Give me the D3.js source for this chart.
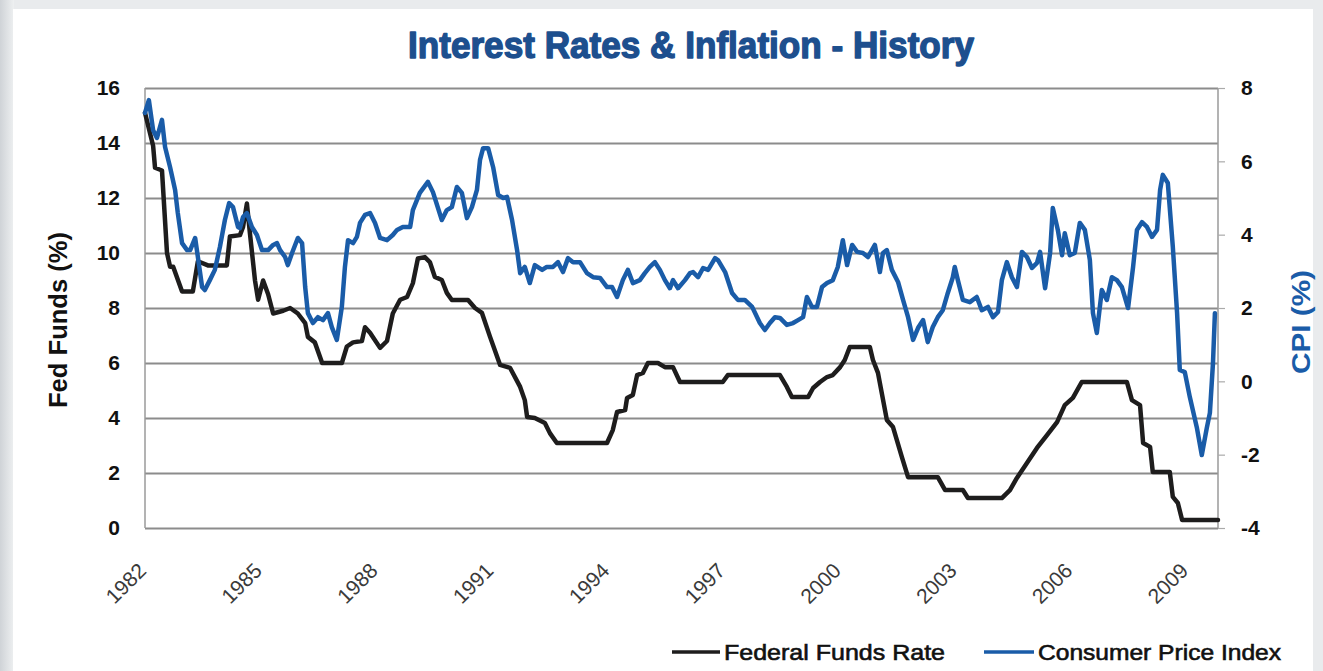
<!DOCTYPE html>
<html>
<head>
<meta charset="utf-8">
<script src="https://cdn.jsdelivr.net/npm/d3@7/dist/d3.min.js"></script>
<style>
  html, body { margin: 0; padding: 0; background: #e7e9eb; }
  svg { display: block; }
</style>
</head>
<body>
<svg id="chart" width="1323" height="671"></svg>
<script>
// ---------- DATA ----------
const title = "Interest Rates & Inflation - History";
const leftAxisTitle = "Fed Funds (%)";
const rightAxisTitle = "CPI (%)";
const seriesNames = ["Federal Funds Rate", "Consumer Price Index"];
const xTickYears = [1982, 1985, 1988, 1991, 1994, 1997, 2000, 2003, 2006, 2009];
const leftTicks = [0, 2, 4, 6, 8, 10, 12, 14, 16];
const rightTicks = [-4, -2, 0, 2, 4, 6, 8];

// Federal Funds Rate: [decimal year, percent]
const fedFunds = [
  [1982.00,15.1],[1982.21,13.9],[1982.26,13.1],[1982.44,13.0],[1982.57,10.0],[1982.65,9.5],
  [1982.73,9.5],[1982.96,8.6],[1983.24,8.6],[1983.37,9.7],[1983.63,9.55],[1984.12,9.55],
  [1984.20,10.6],[1984.46,10.65],[1984.54,10.95],[1984.64,11.8],[1984.72,10.7],[1984.85,9.0],
  [1984.93,8.3],[1985.06,9.0],[1985.19,8.5],[1985.32,7.8],[1985.58,7.9],[1985.76,8.0],
  [1985.96,7.8],[1986.15,7.45],[1986.22,6.95],[1986.40,6.75],[1986.59,6.0],[1987.10,6.0],
  [1987.23,6.6],[1987.39,6.75],[1987.62,6.8],[1987.70,7.3],[1987.83,7.1],[1988.09,6.55],
  [1988.27,6.8],[1988.42,7.8],[1988.61,8.3],[1988.79,8.4],[1988.94,8.9],[1989.07,9.8],
  [1989.25,9.85],[1989.38,9.67],[1989.51,9.13],[1989.69,9.02],[1989.82,8.55],[1989.95,8.29],
  [1990.37,8.29],[1990.55,8.0],[1990.73,7.82],[1990.94,6.95],[1991.20,5.93],[1991.46,5.82],
  [1991.72,5.13],[1991.84,4.65],[1991.90,4.04],[1992.10,4.0],[1992.36,3.82],[1992.49,3.45],
  [1992.67,3.09],[1993.97,3.09],[1994.12,3.56],[1994.23,4.22],[1994.44,4.29],[1994.49,4.73],
  [1994.64,4.84],[1994.75,5.56],[1994.90,5.64],[1995.03,6.0],[1995.29,6.0],[1995.47,5.85],
  [1995.68,5.85],[1995.86,5.31],[1996.97,5.31],[1997.10,5.56],[1998.45,5.56],[1998.63,5.13],
  [1998.76,4.76],[1999.18,4.76],[1999.31,5.09],[1999.49,5.31],[1999.67,5.49],[1999.82,5.56],
  [2000.01,5.85],[2000.13,6.11],[2000.26,6.58],[2000.78,6.58],[2000.86,6.11],[2000.99,5.64],
  [2001.22,3.93],[2001.38,3.67],[2001.61,2.58],[2001.77,1.85],[2002.54,1.85],[2002.73,1.38],
  [2003.19,1.38],[2003.32,1.09],[2004.20,1.09],[2004.41,1.38],[2004.59,1.82],[2004.85,2.36],
  [2005.11,2.91],[2005.37,3.38],[2005.63,3.85],[2005.83,4.47],[2006.04,4.73],[2006.27,5.31],
  [2007.44,5.31],[2007.57,4.65],[2007.78,4.47],[2007.86,3.09],[2008.04,2.95],[2008.11,2.04],
  [2008.55,2.04],[2008.63,1.13],[2008.76,0.91],[2008.87,0.29],[2009.80,0.29]
];

// Consumer Price Index (yoy %): [decimal year, percent]
const cpi = [
  [1982.00,7.32],[1982.10,7.67],[1982.21,6.85],[1982.31,6.64],[1982.44,7.13],[1982.52,6.39],
  [1982.65,5.84],[1982.78,5.22],[1982.85,4.59],[1982.96,3.77],[1983.09,3.58],[1983.17,3.58],
  [1983.30,3.91],[1983.37,3.39],[1983.48,2.57],[1983.55,2.49],[1983.68,2.76],[1983.81,3.04],
  [1983.94,3.66],[1984.07,4.40],[1984.18,4.86],[1984.28,4.75],[1984.41,4.21],[1984.46,4.18],
  [1984.54,4.48],[1984.64,4.59],[1984.77,4.21],[1984.90,3.99],[1985.03,3.58],[1985.19,3.58],
  [1985.32,3.72],[1985.42,3.77],[1985.50,3.58],[1985.63,3.39],[1985.70,3.17],[1985.81,3.50],
  [1985.96,3.91],[1986.07,3.77],[1986.15,2.57],[1986.22,1.86],[1986.35,1.59],[1986.48,1.75],
  [1986.61,1.67],[1986.74,1.86],[1986.84,1.48],[1986.97,1.13],[1987.10,2.03],[1987.18,3.12],
  [1987.26,3.85],[1987.39,3.77],[1987.49,3.94],[1987.57,4.32],[1987.70,4.54],[1987.83,4.59],
  [1987.96,4.32],[1988.09,3.91],[1988.27,3.85],[1988.42,3.99],[1988.53,4.13],[1988.68,4.21],
  [1988.87,4.21],[1988.94,4.67],[1989.12,5.14],[1989.33,5.44],[1989.46,5.16],[1989.69,4.40],
  [1989.82,4.67],[1989.95,4.75],[1990.08,5.30],[1990.21,5.14],[1990.34,4.45],[1990.47,4.75],
  [1990.60,5.22],[1990.68,6.04],[1990.76,6.36],[1990.89,6.36],[1991.02,5.84],[1991.15,5.08],
  [1991.28,5.00],[1991.38,5.03],[1991.51,4.40],[1991.64,3.58],[1991.72,2.95],[1991.84,3.12],
  [1991.97,2.68],[1992.10,3.17],[1992.29,3.04],[1992.41,3.12],[1992.57,3.12],[1992.70,3.25],
  [1992.83,2.98],[1992.96,3.36],[1993.09,3.25],[1993.27,3.25],[1993.45,2.95],[1993.61,2.84],
  [1993.79,2.82],[1993.97,2.57],[1994.10,2.57],[1994.23,2.30],[1994.38,2.76],[1994.51,3.04],
  [1994.64,2.68],[1994.82,2.76],[1994.95,2.95],[1995.08,3.12],[1995.21,3.25],[1995.34,3.04],
  [1995.47,2.76],[1995.60,2.54],[1995.68,2.76],[1995.81,2.54],[1995.99,2.76],[1996.12,2.95],
  [1996.20,2.98],[1996.33,2.84],[1996.46,3.09],[1996.59,3.04],[1996.77,3.36],[1996.85,3.30],
  [1997.03,2.98],[1997.21,2.41],[1997.36,2.22],[1997.54,2.22],[1997.73,2.03],[1997.93,1.59],
  [1998.06,1.40],[1998.19,1.59],[1998.32,1.75],[1998.45,1.73],[1998.63,1.54],[1998.79,1.59],
  [1998.92,1.67],[1999.05,1.75],[1999.15,2.30],[1999.28,2.03],[1999.41,2.03],[1999.54,2.57],
  [1999.67,2.68],[1999.82,2.76],[1999.95,3.12],[2000.08,3.85],[2000.19,3.17],[2000.32,3.72],
  [2000.45,3.53],[2000.60,3.50],[2000.73,3.39],[2000.91,3.72],[2001.04,2.98],[2001.12,3.50],
  [2001.22,3.58],[2001.35,3.04],[2001.51,2.71],[2001.64,2.22],[2001.77,1.75],[2001.90,1.13],
  [2002.03,1.46],[2002.16,1.67],[2002.28,1.07],[2002.41,1.48],[2002.54,1.75],[2002.67,1.94],
  [2002.80,2.41],[2002.93,2.84],[2002.98,3.12],[2003.06,2.76],[2003.19,2.22],[2003.37,2.16],
  [2003.55,2.30],[2003.68,1.94],[2003.84,2.03],[2003.97,1.75],[2004.10,1.89],[2004.20,2.76],
  [2004.33,3.25],[2004.46,2.84],[2004.59,2.57],[2004.72,3.53],[2004.85,3.39],[2004.98,3.09],
  [2005.11,3.23],[2005.19,3.53],[2005.32,2.54],[2005.45,3.50],[2005.52,4.73],[2005.65,4.13],
  [2005.76,3.44],[2005.83,4.04],[2005.96,3.44],[2006.09,3.50],[2006.22,4.32],[2006.35,4.13],
  [2006.48,3.31],[2006.56,1.86],[2006.66,1.32],[2006.79,2.49],[2006.92,2.22],[2007.05,2.84],
  [2007.18,2.76],[2007.31,2.57],[2007.47,2.00],[2007.60,3.12],[2007.70,4.13],[2007.83,4.34],
  [2007.96,4.21],[2008.09,3.94],[2008.22,4.13],[2008.30,5.22],[2008.37,5.63],[2008.50,5.41],
  [2008.63,3.66],[2008.74,1.86],[2008.81,0.31],[2008.94,0.25],[2009.07,-0.43],[2009.25,-1.25],
  [2009.38,-2.01],[2009.51,-1.27],[2009.59,-0.86],[2009.67,0.50],[2009.72,1.86]
];

// ---------- DRAWING ----------
const W = 1323, H = 671;
const plot = { left: 145, right: 1218, top: 88, bottom: 528 };
const fedColor = "#1e1d1d";
const cpiColor = "#1a5ca8";
const titleColor = "#1d4f8e";
const gridColor = "#8c8c8c";
const FONT = "'Liberation Sans', Arial, sans-serif";

const svg = d3.select("#chart");

// page frame
const defs = svg.append("defs");
const grad = defs.append("linearGradient").attr("id", "leftShade").attr("x1", 0).attr("x2", 1);
grad.append("stop").attr("offset", 0).attr("stop-color", "#cfd3d7");
grad.append("stop").attr("offset", 1).attr("stop-color", "#eef0f1");
svg.append("rect").attr("x", 0).attr("y", 0).attr("width", W).attr("height", H).attr("fill", "#e9ebed");
svg.append("rect").attr("x", 0).attr("y", 0).attr("width", 14).attr("height", H).attr("fill", "url(#leftShade)");
svg.append("rect").attr("x", 13).attr("y", 9).attr("width", 1300).attr("height", H - 9).attr("fill", "#ffffff");

const x = d3.scaleLinear().domain([1982, 2009.8]).range([plot.left, plot.right]);
const yL = d3.scaleLinear().domain([0, 16]).range([plot.bottom, plot.top]);
const yR = d3.scaleLinear().domain([-4, 8]).range([plot.bottom, plot.top]);

// gridlines (left axis)
svg.append("g")
  .attr("transform", `translate(${plot.left},0)`)
  .call(d3.axisLeft(yL).tickValues(leftTicks).tickSize(-(plot.right - plot.left)).tickFormat(""))
  .call(g => g.select(".domain").remove())
  .call(g => g.selectAll("line").attr("stroke", gridColor).attr("stroke-width", 1.8));

// plot borders
svg.append("line").attr("x1", plot.left).attr("x2", plot.left).attr("y1", plot.top).attr("y2", plot.bottom)
  .attr("stroke", "#9a9a9a").attr("stroke-width", 1.5);
svg.append("line").attr("x1", plot.right).attr("x2", plot.right).attr("y1", plot.top).attr("y2", plot.bottom)
  .attr("stroke", "#9a9a9a").attr("stroke-width", 1.5);

// left axis labels
svg.append("g")
  .attr("transform", `translate(${plot.left},0)`)
  .call(d3.axisLeft(yL).tickValues(leftTicks).tickSize(0).tickPadding(25).tickFormat(d => String(d)))
  .call(g => g.select(".domain").remove())
  .call(g => g.selectAll("text")
    .attr("font-family", FONT)
    .attr("font-weight", "bold").attr("font-size", 21).attr("fill", "#111"));

// right axis
svg.append("g")
  .attr("transform", `translate(${plot.right},0)`)
  .call(d3.axisRight(yR).tickValues(rightTicks).tickSize(7).tickPadding(16).tickFormat(d => String(d)))
  .call(g => g.select(".domain").remove())
  .call(g => g.selectAll("line").attr("stroke", "#aaaaaa").attr("stroke-width", 1.2))
  .call(g => g.selectAll("text")
    .attr("font-family", FONT)
    .attr("font-weight", "bold").attr("font-size", 21).attr("fill", "#111"));

// x axis labels (rotated)
const xAxis = svg.append("g")
  .attr("transform", `translate(0,${plot.bottom})`)
  .call(d3.axisBottom(x).tickValues(xTickYears).tickSize(0).tickFormat(d => String(d)))
  .call(g => g.select(".domain").remove());
xAxis.selectAll("text")
  .attr("font-family", FONT)
  .attr("font-size", 21).attr("fill", "#3a3a3a")
  .attr("text-anchor", "end")
  .attr("dy", 0).attr("y", 0)
  .attr("transform", "translate(2,44) rotate(-45)");

// lines
const lineFed = d3.line().x(d => x(d[0])).y(d => yL(d[1]));
const lineCpi = d3.line().x(d => x(d[0])).y(d => yR(d[1]));

svg.append("path").datum(fedFunds).attr("d", lineFed)
  .attr("fill", "none").attr("stroke", fedColor).attr("stroke-width", 4.5)
  .attr("stroke-linejoin", "round").attr("stroke-linecap", "round");
svg.append("path").datum(cpi).attr("d", lineCpi)
  .attr("fill", "none").attr("stroke", cpiColor).attr("stroke-width", 4.5)
  .attr("stroke-linejoin", "round").attr("stroke-linecap", "round");

// title
svg.append("text")
  .attr("x", 691).attr("y", 58).attr("text-anchor", "middle")
  .attr("font-family", FONT)
  .attr("font-weight", "bold").attr("font-size", 36).attr("fill", titleColor)
  .attr("stroke", titleColor).attr("stroke-width", 1.4).attr("stroke-linejoin", "round")
  .attr("textLength", 566).attr("lengthAdjust", "spacingAndGlyphs")
  .text(title);

// axis titles
svg.append("text")
  .attr("transform", "translate(67,320) rotate(-90)")
  .attr("text-anchor", "middle")
  .attr("font-family", FONT)
  .attr("font-weight", "bold").attr("font-size", 25).attr("fill", "#111")
  .attr("textLength", 176).attr("lengthAdjust", "spacingAndGlyphs")
  .text(leftAxisTitle);
svg.append("text")
  .attr("transform", "translate(1310,322) rotate(-90)")
  .attr("text-anchor", "middle")
  .attr("font-family", FONT)
  .attr("font-weight", "bold").attr("font-size", 25).attr("fill", cpiColor)
  .attr("textLength", 104).attr("lengthAdjust", "spacingAndGlyphs")
  .text(rightAxisTitle);

// legend
const legend = svg.append("g").attr("font-family", FONT);
const legendItems = [
  { name: seriesNames[0], color: fedColor, x1: 672, x2: 720, tx: 724, len: 221 },
  { name: seriesNames[1], color: cpiColor, x1: 984, x2: 1034, tx: 1038, len: 243 }
];
legendItems.forEach(it => {
  legend.append("line").attr("x1", it.x1).attr("x2", it.x2).attr("y1", 652).attr("y2", 652)
    .attr("stroke", it.color).attr("stroke-width", 3.5);
  legend.append("text").attr("x", it.tx).attr("y", 660)
    .attr("font-size", 22).attr("fill", "#111")
    .attr("stroke", "#111").attr("stroke-width", 0.6)
    .attr("textLength", it.len).attr("lengthAdjust", "spacingAndGlyphs")
    .text(it.name);
});
</script>
</body>
</html>
